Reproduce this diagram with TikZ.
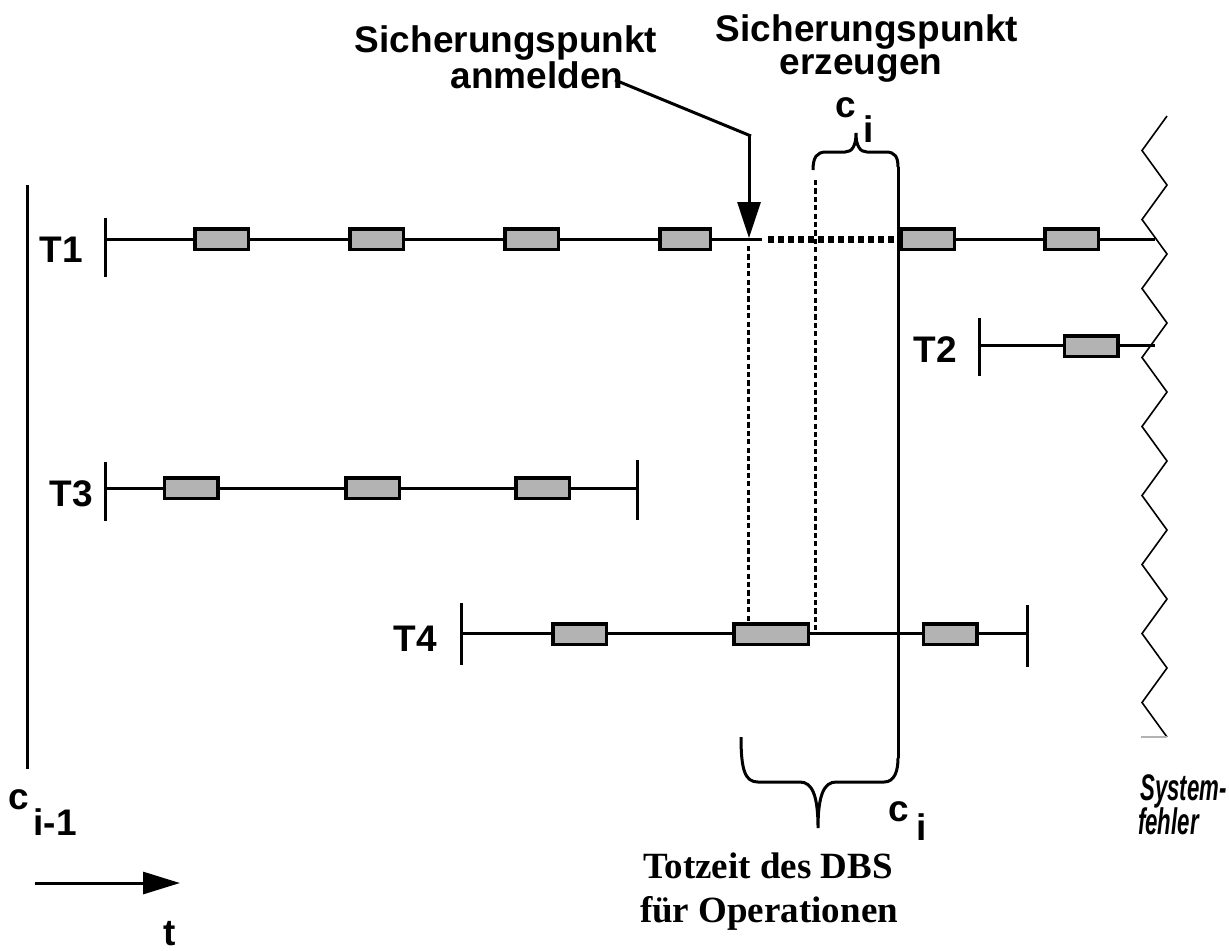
\documentclass[tikz,border=0pt]{standalone}
\usepackage{fontspec}
\setmainfont{Liberation Sans}
\newfontfamily\serifbf{Liberation Serif}
\usetikzlibrary{arrows.meta}
\definecolor{boxgray}{RGB}{179,179,179}
\begin{document}
\begin{tikzpicture}[x=0.5pt,y=-0.5pt,
  lbl/.style={font=\fontsize{18.5}{22}\selectfont\bfseries, inner sep=0pt},
  ilbl/.style={font=\fontsize{18.5}{22}\selectfont\bfseries\itshape, inner sep=0pt, xscale=0.6},
  tz/.style={font=\serifbf\fontsize{18.5}{22}\selectfont\bfseries, inner sep=0pt},
  tline/.style={line width=1.5pt},
  opbox/.style={draw, line width=1.75pt, fill=boxgray, minimum height=10.25pt, inner sep=0pt, minimum width=26.75pt},
  dotv/.style={line width=1.5pt, dash pattern=on 2.6pt off 1.6pt},
  doth/.style={line width=3.5pt, dash pattern=on 3pt off 2pt},
  zig/.style={line width=0.8pt},
  bigtip/.style={-{Triangle[width=11.5pt,length=18pt]}},
]
\useasboundingbox (0,0) rectangle (1229,950);

% ---------- coordinates ----------
\coordinate (cprevT) at (27,185);
\coordinate (cprevB) at (27,769);
% T1
\coordinate (t1s) at (105,239);
\coordinate (t1a) at (762,239);
\coordinate (t1d) at (768,239);
\coordinate (t1c) at (898,239);
\coordinate (t1z) at (1155,239);
\coordinate (t1u) at (105,218);
\coordinate (t1l) at (105,277);
% T2
\coordinate (t2s) at (979,345);
\coordinate (t2z) at (1155,345);
\coordinate (t2u) at (979,318);
\coordinate (t2l) at (979,376);
% T3
\coordinate (t3s) at (105,488);
\coordinate (t3e) at (637,488);
\coordinate (t3u) at (105,462);
\coordinate (t3l) at (105,521);
\coordinate (t3eu) at (637,460);
\coordinate (t3el) at (637,520);
% T4
\coordinate (t4s) at (461,633);
\coordinate (t4e) at (1027,633);
\coordinate (t4u) at (461,603);
\coordinate (t4l) at (461,665);
\coordinate (t4eu) at (1027,605);
\coordinate (t4el) at (1027,667);
% c_i line
\coordinate (ciT) at (898,167);
\coordinate (ciB) at (898,758);
% dotted verticals
\coordinate (d1T) at (748,246);
\coordinate (d1B) at (748,622);
\coordinate (d2T) at (815,180);
\coordinate (d2B) at (815,633);
% arrow
\coordinate (a1) at (615,80);
\coordinate (a2) at (751,136);
\coordinate (a3) at (749,136);
\coordinate (a4) at (749,238);
% t arrow
\coordinate (ta) at (35,883);
\coordinate (tb) at (180,883);

% ---------- lines ----------
\draw[tline] (cprevT) -- (cprevB);
\draw[tline] (t1u) -- (t1l);
\draw[tline] (t1s) -- (t1a);
\draw[doth] (t1d) -- (t1c);
\draw[tline] (t1c) -- (t1z);
\draw[tline] (t2u) -- (t2l);
\draw[tline] (t2s) -- (t2z);
\draw[tline] (t3u) -- (t3l);
\draw[tline] (t3eu) -- (t3el);
\draw[tline] (t3s) -- (t3e);
\draw[tline] (t4u) -- (t4l);
\draw[tline] (t4eu) -- (t4el);
\draw[tline] (t4s) -- (t4e);
\draw[tline] (ciT) -- (ciB);
\draw[dotv] (d1T) -- (d1B);
\draw[dotv] (d2T) -- (d2B);

% top brace
\draw[tline] (813,170) .. controls (813,157) and (817,152) .. (826,152) -- (845,152)
  .. controls (852,152) and (856,146) .. (856,133)
  .. controls (856,146) and (860,152) .. (867,152) -- (886,152)
  .. controls (895,152) and (898,157) .. (ciT);
% bottom brace
\draw[tline] (741,737) .. controls (741,770) and (745,782) .. (758,782) -- (800,782)
  .. controls (812,782) and (818,795) .. (818,828)
  .. controls (818,795) and (824,782) .. (836,782) -- (884,782)
  .. controls (895,782) and (898,770) .. (ciB);

% zigzag
\draw[zig] (1167,116) foreach \k in {0,...,8} { -- (1142,{150.5+69*\k}) -- (1167,{185+69*\k}) };
\draw[gray!60, line width=0.6pt] (1141,737) -- (1167,737);

% arrows
\draw[tline] (a1) -- (a2);
\draw[tline, bigtip] (a3) -- (a4);
\draw[tline, -{Triangle[width=11pt,length=18.5pt]}] (ta) -- (tb);

% ---------- boxes ----------
\node[opbox] (b11) at (221.5,239) {};
\node[opbox] (b12) at (376.5,239) {};
\node[opbox] (b13) at (531.5,239) {};
\node[opbox, minimum width=25.25pt] (b14) at (685,239) {};
\node[opbox] (b15) at (927.5,239) {};
\node[opbox] (b16) at (1071.5,239) {};
\node[opbox] (b21) at (1091,346) {};
\node[opbox] (b31) at (191,488) {};
\node[opbox] (b32) at (372.5,488) {};
\node[opbox] (b33) at (542.5,488) {};
\node[opbox] (b41) at (579.5,634) {};
\node[opbox, minimum width=37.25pt] (b42) at (771,634) {};
\node[opbox] (b43) at (950,634) {};

% ---------- labels ----------
\node[lbl, anchor=base east] (lT1) at (83,262) {T1};
\node[lbl, anchor=base east] (lT2) at (957,362) {T2};
\node[lbl, anchor=base east] (lT3) at (93,506) {T3};
\node[lbl, anchor=base east] (lT4) at (437,651) {T4};

\node[lbl, anchor=base] (sp1) at (506,52) {Sicherungspunkt};
\node[lbl, anchor=base] (anm) at (537,88) {anmelden};
\node[lbl, anchor=base] (sp2) at (867,41) {Sicherungspunkt};
\node[lbl, anchor=base] (erz) at (861,74) {erzeugen};

\node[lbl, anchor=base west] (ctc) at (835,117) {c};
\node[lbl, anchor=base west] (cti) at (863,142) {i};
\node[lbl, anchor=base west] (cbc) at (888,821) {c};
\node[lbl, anchor=base west] (cbi) at (916,840) {i};
\node[lbl, anchor=base west] (cpc) at (8,809) {c};
\node[lbl, anchor=base west] (cpi) at (33,835) {i-1};
\node[lbl, anchor=base west] (tl) at (163,945) {t};

\node[ilbl, anchor=base west] (sys1) at (1140,800) {System-};
\node[ilbl, anchor=base west] (sys2) at (1138,834) {fehler};

\node[tz, anchor=base] (tot1) at (768,878) {Totzeit des DBS};
\node[tz, anchor=base] (tot2) at (769,922) {für Operationen};
\end{tikzpicture}
\end{document}
